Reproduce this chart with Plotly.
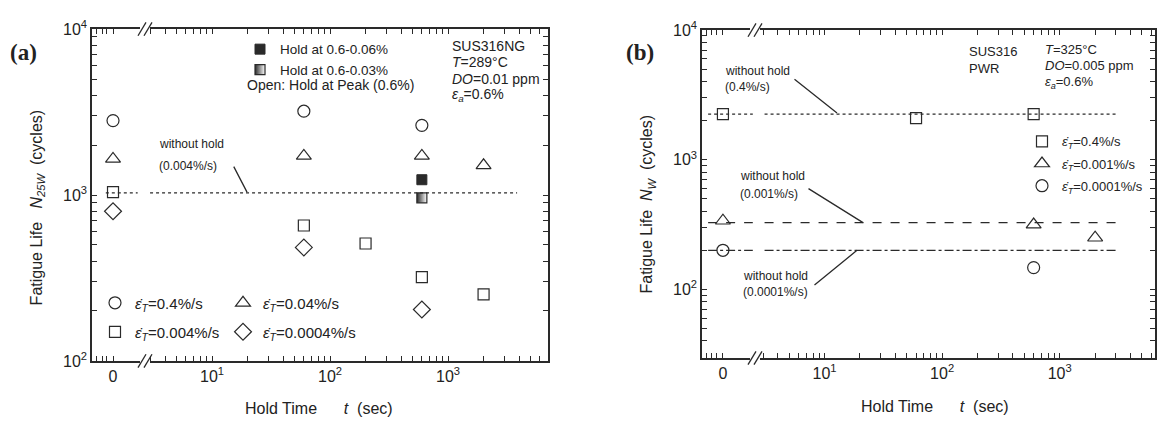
import plotly.graph_objects as go
import numpy as np

W, H = 1158, 429

# ---------------- data: panel (a) SUS316NG ----------------
a_t_circle = [0, 60, 600]
a_N_circle = [2810, 3200, 2630]
a_t_tri = [0, 60, 600, 2000]
a_N_tri = [1650, 1720, 1720, 1510]
a_t_sq = [0, 60, 200, 600, 2000]
a_N_sq = [1040, 655, 510, 320, 252]
a_t_dia = [0, 60, 600]
a_N_dia = [798, 483, 204]
a_t_hold006 = [600]
a_N_hold006 = [1236]
a_t_hold003 = [600]
a_N_hold003 = [962]
a_without_hold = 1030

# ---------------- data: panel (b) SUS316 PWR ----------------
b_t_sq = [0, 60, 600]
b_N_sq = [2250, 2090, 2250]
b_t_tri = [0, 600, 2000]
b_N_tri = [338, 316, 250]
b_t_cir = [0, 600]
b_N_cir = [200, 147]
b_without_04 = 2250
b_without_0001 = 327
b_without_00001 = 200

# tick labels
x_tick_text = ["0", "10<sup>1</sup>", "10<sup>2</sup>", "10<sup>3</sup>"]
y_tick_vals = [100, 1000, 10000]
y_tick_text = ["10<sup>2</sup>", "10<sup>3</sup>", "10<sup>4</sup>"]

# display position used for the "0" hold-time column (broken log axis)
ZERO_A = 10 ** 0.161
ZERO_B = 10 ** 0.136


def tx(ts, zero):
    return [zero if t == 0 else t for t in ts]


INK = "#2a2a2a"
FONT = "Liberation Sans, Arial, sans-serif"

fig = go.Figure()


def open_marker(symbol, size):
    return dict(symbol=symbol, size=size, color=INK, line=dict(color=INK, width=1.2))


ET = "<i>ε̇</i><sub><i>T</i></sub>"

# ---- panel (a) traces ----
fig.add_trace(go.Scatter(x=tx(a_t_circle, ZERO_A), y=a_N_circle, mode="markers",
                         marker=open_marker("circle-open", 12), name=ET + "=0.4%/s",
                         legend="legend", legendgroup="a1", xaxis="x", yaxis="y"))
fig.add_trace(go.Scatter(x=tx(a_t_sq, ZERO_A), y=a_N_sq, mode="markers",
                         marker=open_marker("square-open", 11), name=ET + "=0.004%/s",
                         legend="legend", legendgroup="a2", xaxis="x", yaxis="y"))
fig.add_trace(go.Scatter(x=tx(a_t_tri, ZERO_A), y=a_N_tri, mode="markers",
                         marker=open_marker("triangle-up-open", 13), name=ET + "=0.04%/s",
                         legend="legend2", legendgroup="a3", xaxis="x", yaxis="y"))
fig.add_trace(go.Scatter(x=tx(a_t_dia, ZERO_A), y=a_N_dia, mode="markers",
                         marker=open_marker("diamond-open", 13), name=ET + "=0.0004%/s",
                         legend="legend2", legendgroup="a4", xaxis="x", yaxis="y"))
fig.add_trace(go.Scatter(x=a_t_hold006, y=a_N_hold006, mode="markers",
                         marker=dict(symbol="square", size=10, color=INK, line=dict(color=INK, width=1)),
                         name="Hold at 0.6-0.06%", legend="legend3", legendgroup="hold",
                         xaxis="x", yaxis="y"))
fig.add_trace(go.Scatter(x=a_t_hold003, y=a_N_hold003, mode="markers",
                         marker=dict(symbol="square", size=10, color=INK,
                                     gradient=dict(type="horizontal", color="white"),
                                     line=dict(color=INK, width=1.2)),
                         name="Hold at 0.6-0.03%", legend="legend3", legendgroup="hold",
                         xaxis="x", yaxis="y"))
# without-hold reference line (a), broken at the axis break
xa_line = [10 ** 0.10, 10 ** 0.37, None, 10 ** 0.475, 10 ** 3.585]
fig.add_trace(go.Scatter(x=xa_line, y=[a_without_hold] * 2 + [None] + [a_without_hold] * 2,
                         mode="lines", line=dict(color=INK, width=1.3, dash="dot"),
                         showlegend=False, xaxis="x", yaxis="y", connectgaps=False))

# ---- panel (b) traces ----
xb_line = [10 ** 0.01, 10 ** 0.39, None, 10 ** 0.49, 10 ** 3.485]
for val, dash in [(b_without_04, "dot"), (b_without_0001, "dash"), (b_without_00001, "dashdot")]:
    fig.add_trace(go.Scatter(x=xb_line, y=[val] * 2 + [None] + [val] * 2, mode="lines",
                             line=dict(color=INK, width=1.3, dash=dash), showlegend=False,
                             xaxis="x2", yaxis="y2", connectgaps=False))
fig.add_trace(go.Scatter(x=tx(b_t_sq, ZERO_B), y=b_N_sq, mode="markers",
                         marker=open_marker("square-open", 11), name=ET + "=0.4%/s",
                         legend="legend4", legendgroup="b1", xaxis="x2", yaxis="y2"))
fig.add_trace(go.Scatter(x=tx(b_t_tri, ZERO_B), y=b_N_tri, mode="markers",
                         marker=open_marker("triangle-up-open", 13), name=ET + "=0.001%/s",
                         legend="legend4", legendgroup="b2", xaxis="x2", yaxis="y2"))
fig.add_trace(go.Scatter(x=tx(b_t_cir, ZERO_B), y=b_N_cir, mode="markers",
                         marker=open_marker("circle-open", 12), name=ET + "=0.0001%/s",
                         legend="legend4", legendgroup="b3", xaxis="x2", yaxis="y2"))


def px(x):
    return x / W


def py(y):
    return 1 - y / H


def minor_vals(lo_dec, hi_dec, maxv):
    out = []
    for d in range(lo_dec, hi_dec + 1):
        for k in range(2, 10):
            v = k * 10 ** d
            if v <= maxv:
                out.append(v)
    return out


def ticks(major, labels, minor):
    vals = list(major) + list(minor)
    txt = list(labels) + [""] * len(minor)
    return vals, txt


xa_vals, xa_txt = ticks([ZERO_A, 10, 100, 1000], x_tick_text,
                        [10 ** 0.025, 10 ** 0.075, 10 ** 0.11] +
                        [v for v in minor_vals(0, 3, 7000) if v >= 3])
xb_vals, xb_txt = ticks([ZERO_B, 10, 100, 1000], x_tick_text,
                        [10 ** 0.0, 10 ** 0.04, 10 ** 0.08] +
                        [v for v in minor_vals(0, 3, 6000) if v >= 3])
ya_vals, ya_txt = ticks(y_tick_vals, y_tick_text, minor_vals(2, 3, 9000))
yb_vals, yb_txt = ticks(y_tick_vals, y_tick_text, minor_vals(1, 3, 9000)[1:])

common_ax = dict(type="log", showline=True, linecolor=INK, linewidth=1.5, mirror="ticks",
                 ticks="inside", ticklen=5, tickwidth=1.3, tickcolor=INK, showgrid=False,
                 zeroline=False, tickmode="array",
                 tickfont=dict(family=FONT, size=16, color="#222"))

fig.update_layout(
    width=W, height=H, margin=dict(l=0, r=0, t=0, b=0),
    paper_bgcolor="white", plot_bgcolor="white",
    font=dict(family=FONT, color="#222"),
    xaxis=dict(common_ax, domain=[px(92), px(548)], anchor="y", range=[-0.017, 3.847],
               tickvals=xa_vals, ticktext=xa_txt),
    yaxis=dict(common_ax, domain=[py(367), py(19)], anchor="x", range=[2, 4],
               tickvals=ya_vals, ticktext=ya_txt),
    xaxis2=dict(common_ax, domain=[px(702), px(1155)], anchor="y2", range=[-0.042, 3.81],
                tickvals=xb_vals, ticktext=xb_txt),
    yaxis2=dict(common_ax, domain=[py(364), py(20)], anchor="x2", range=[np.log10(29.5), 4],
                tickvals=yb_vals, ticktext=yb_txt),
    legend=dict(x=px(95), y=py(289), xanchor="left", yanchor="top", bgcolor="rgba(0,0,0,0)",
                font=dict(family=FONT, size=15), tracegroupgap=6.5, traceorder="grouped"),
    legend2=dict(x=px(223), y=py(289), xanchor="left", yanchor="top", bgcolor="rgba(0,0,0,0)",
                 font=dict(family=FONT, size=15), tracegroupgap=6.5, traceorder="grouped"),
    legend3=dict(x=px(240), y=py(24), xanchor="left", yanchor="top", bgcolor="rgba(0,0,0,0)",
                 font=dict(family=FONT, size=13.5), tracegroupgap=0, traceorder="normal"),
    legend4=dict(x=px(1022), y=py(121), xanchor="left", yanchor="top", bgcolor="rgba(0,0,0,0)",
                 font=dict(family=FONT, size=13), tracegroupgap=2.3, traceorder="grouped"),
)

ann = []


def text(x, y, s, size=14, xanchor="left", angle=0, family=FONT):
    ann.append(dict(x=px(x), y=py(y), xref="paper", yref="paper", text=s, showarrow=False,
                    xanchor=xanchor, yanchor="middle", textangle=angle,
                    font=dict(family=family, size=size, color="#222")))


def arrow(xt, yt, xs, ys):
    ann.append(dict(x=px(xt), y=py(yt), xref="paper", yref="paper", ax=xs - xt, ay=ys - yt,
                    axref="pixel", ayref="pixel", text="", showarrow=True, arrowhead=0,
                    arrowwidth=1.3, arrowcolor=INK))


NB = "\u00a0"
# panel labels
text(8, 44, "<b>(a)</b>", size=23, family="Liberation Serif, Times New Roman, serif")
text(624, 44, "<b>(b)</b>", size=23, family="Liberation Serif, Times New Roman, serif")
# axis titles
text(319, 417, "Hold Time" + NB * 6 + "<i>t</i>" + NB * 2 + "(sec)", size=16, xanchor="center")
text(935, 415, "Hold Time" + NB * 6 + "<i>t</i>" + NB * 2 + "(sec)", size=16, xanchor="center")
text(37, 206, "Fatigue Life" + NB * 3 + "<i>N</i><sub><i>25W</i></sub>" + NB * 2 + "(cycles)",
     size=16, xanchor="center", angle=-90)
text(648, 203, "Fatigue Life" + NB * 2 + "<i>N</i><sub><i>W</i></sub>" + NB * 2 + "(cycles)",
     size=16, xanchor="center", angle=-90)
# panel (a) notes
text(245, 78, "Open: Hold at Peak (0.6%)", size=14)
text(450, 37, "SUS316NG", size=14)
text(450, 54, "<i>T</i>=289°C", size=14)
text(450, 71, "<i>DO</i>=0.01 ppm", size=14)
text(450, 88, "<i>ε</i><sub><i>a</i></sub>=0.6%", size=14)
text(157, 140, "without hold", size=12)
text(157, 163, "(0.004%/s)", size=12)
arrow(247, 190, 233, 163)
# panel (b) notes
text(967, 42, "SUS316", size=13)
text(967, 60, "PWR", size=13)
text(1043, 40, "<i>T</i>=325°C", size=13)
text(1043, 57, "<i>DO</i>=0.005 ppm", size=13)
text(1043, 75, "<i>ε</i><sub><i>a</i></sub>=0.6%", size=13)
text(723, 63, "without hold", size=12)
text(723, 80, "(0.4%/s)", size=12)
arrow(837, 107, 793, 72)
text(738, 173, "without hold", size=12)
text(738, 192, "(0.001%/s)", size=12)
arrow(863, 222, 807, 187)
text(741, 278, "without hold", size=12)
text(741, 295, "(0.0001%/s)", size=12)
arrow(857, 251, 813, 287)

fig.update_layout(annotations=ann)

# axis-break marks "//"
shapes = []
for xb, ys in [(145, (19, 367)), (755, (20, 364))]:
    for yy in ys:
        shapes.append(dict(type="rect", xref="paper", yref="paper", x0=px(xb - 5), x1=px(xb + 5),
                           y0=py(yy + 3), y1=py(yy - 3), fillcolor="white", line=dict(width=0),
                           layer="above"))
        for dx in (-3, 3):
            shapes.append(dict(type="line", xref="paper", yref="paper",
                               x0=px(xb + dx - 4), y0=py(yy + 7), x1=px(xb + dx + 4), y1=py(yy - 7),
                               line=dict(color=INK, width=1.3), layer="above"))
fig.update_layout(shapes=shapes)

fig.write_html("out.html", config={"displayModeBar": False},
               post_script="document.body.style.margin='0px';"
                           "document.documentElement.style.overflow='hidden';")
